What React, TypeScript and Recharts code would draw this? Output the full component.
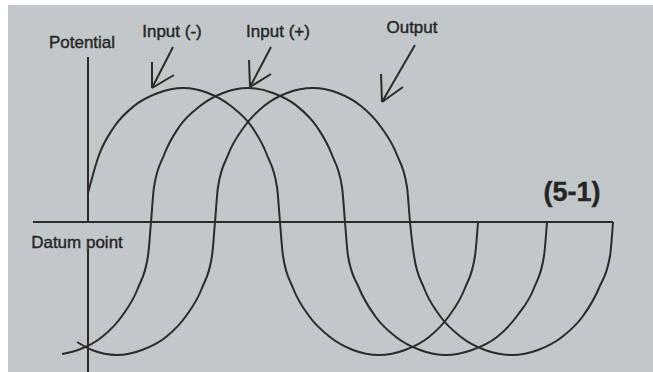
import React from "react";
import { LineChart, Line, XAxis, YAxis, ReferenceLine, Customized } from "recharts";

// time (t) vs potential (v); datum point = 0
const inputMinus: [number, number][] = [
  [0, 29], [11, 67], [26, 95], [46, 116], [70, 129], [95, 134], [120, 129],
  [143, 116], [164, 95], [179, 67], [189, 35], [192, 0], [195, -34],
  [205, -66], [221, -94], [242, -115], [265, -128], [291, -133], [317, -128],
  [341, -115], [361, -94], [377, -66], [387, -34], [390, 0],
];

const inputPlus: [number, number][] = [
  [-26, -132], [-10, -128], [14, -115], [34, -94], [50, -66], [60, -34],
  [63, 0], [66, 35], [76, 67], [91, 95], [112, 116], [135, 129], [160, 134],
  [185, 129], [209, 116], [229, 95], [244, 67], [254, 35], [257, 0],
  [260, -34], [271, -66], [287, -94], [308, -115], [332, -128], [358, -133],
  [384, -128], [409, -115], [429, -94], [446, -66], [456, -34], [459, 0],
];

const output: [number, number][] = [
  [-11, -120], [4, -128], [29, -133], [54, -128], [78, -115], [98, -94],
  [114, -66], [124, -34], [127, 0], [130, 35], [140, 67], [156, 95],
  [176, 116], [199, 129], [225, 134], [250, 129], [273, 116], [293, 95],
  [309, 67], [319, 35], [322, 0], [326, -34], [336, -66], [352, -94],
  [373, -115], [397, -128], [424, -133], [450, -128], [474, -115],
  [495, -94], [511, -66], [522, -34], [525, 0],
];

const datumRange = [-55, 525];
// potential axis, broken where the "Datum point" label sits
const potentialAxis: [number, number][] = [[165, 0], [-28, -150]];

// arrows: [tip, tail, barb1, barb2]
const arrows: [number, number][][] = [
  [[64, 134], [85, 175], [64, 160], [86, 147]],
  [[162, 135], [183, 175], [161, 162], [183, 148]],
  [[294, 120], [327, 177], [293, 148], [315, 135]],
];

const INK = "#2b2b2b";

const toPoints = (arr: [number, number][]) => arr.map(([t, v]) => ({ t, v }));

function Labels() {
  const font = {
    fontFamily: "Liberation Sans, Arial, sans-serif",
    fill: "#262626",
    stroke: "#262626",
    strokeWidth: 0.4,
  };
  return (
    <g>
      <text x={82} y={48} textAnchor="middle" fontSize={17} {...font}>Potential</text>
      <text x={172} y={37} textAnchor="middle" fontSize={17} {...font}>Input (-)</text>
      <text x={278} y={37} textAnchor="middle" fontSize={17} {...font}>Input (+)</text>
      <text x={412} y={33} textAnchor="middle" fontSize={17} {...font}>Output</text>
      <text x={77} y={248} textAnchor="middle" fontSize={17} {...font}>Datum point</text>
      <text x={572} y={201} textAnchor="middle" fontSize={27} fontWeight="bold" {...font}>(5-1)</text>
    </g>
  );
}

const lineProps = {
  dataKey: "v",
  type: "monotone" as const,
  stroke: INK,
  strokeWidth: 2,
  dot: false,
  activeDot: false,
  isAnimationActive: false,
};

export default function App() {
  return (
    <div style={{ position: "absolute", left: 0, top: 0, width: 653, height: 372, background: "#fff", overflow: "hidden" }}>
      <div style={{ position: "absolute", left: 8, top: 5, right: 0, bottom: 0, background: "#c2c7ca" }} />
      <div style={{ position: "absolute", left: 0, top: 0 }}>
        <LineChart width={653} height={372} margin={{ top: 0, right: 0, bottom: 0, left: 0 }}>
          <XAxis type="number" dataKey="t" domain={[-88, 565]} hide allowDataOverflow />
          <YAxis type="number" dataKey="v" domain={[-150, 222]} hide allowDataOverflow />
          <ReferenceLine
            segment={[{ x: datumRange[0], y: 0 }, { x: datumRange[1], y: 0 }]}
            stroke={INK}
            strokeWidth={2.2}
          />
          {potentialAxis.map(([a, b], i) => (
            <ReferenceLine
              key={`ax${i}`}
              segment={[{ x: 0, y: a }, { x: 0, y: b }]}
              stroke={INK}
              strokeWidth={2}
            />
          ))}
          {arrows.map((a, i) => (
            <React.Fragment key={i}>
              {a.slice(1).map((p, j) => (
                <ReferenceLine
                  key={j}
                  segment={[{ x: a[0][0], y: a[0][1] }, { x: p[0], y: p[1] }]}
                  stroke={INK}
                  strokeWidth={2}
                />
              ))}
            </React.Fragment>
          ))}
          <Line data={toPoints(inputMinus)} {...lineProps} />
          <Line data={toPoints(inputPlus)} {...lineProps} />
          <Line data={toPoints(output)} {...lineProps} />
          <Customized component={<Labels />} />
        </LineChart>
      </div>
    </div>
  );
}
